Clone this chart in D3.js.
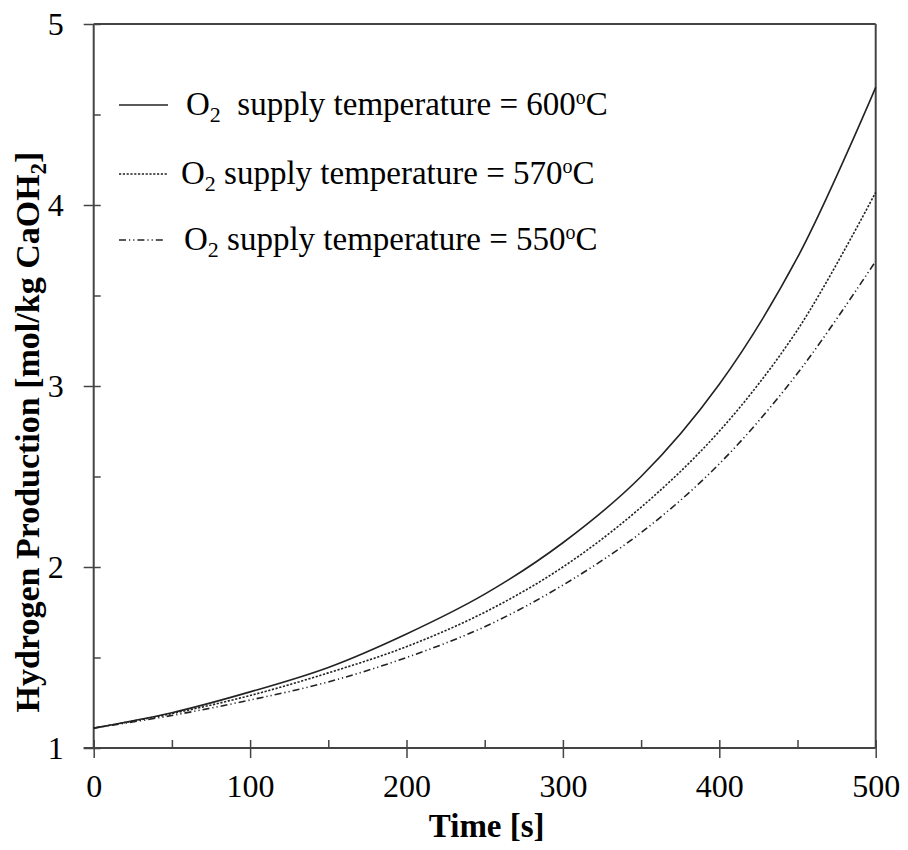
<!DOCTYPE html>
<html>
<head>
<meta charset="utf-8">
<script src="https://cdn.jsdelivr.net/npm/d3@7"></script>
<style>
  html, body { margin: 0; padding: 0; background: #fff; }
  svg text { font-family: "Liberation Serif", "Times New Roman", serif; fill: #000; white-space: pre; }
</style>
</head>
<body>
<svg id="chart" width="908" height="850"></svg>
<script>
// Hydrogen production over time for three O2 supply temperatures
const time = [0, 50, 100, 150, 200, 250, 300, 350, 400, 450, 500];
const supply600 = [1.11, 1.195, 1.31, 1.445, 1.63, 1.85, 2.134, 2.50, 3.01, 3.71, 4.65];
const supply570 = [1.11, 1.19, 1.29, 1.415, 1.56, 1.75, 2.00, 2.33, 2.75, 3.31, 4.07];
const supply550 = [1.11, 1.18, 1.265, 1.365, 1.50, 1.67, 1.90, 2.19, 2.57, 3.07, 3.69];
const seriesTemps = ["600", "570", "550"];
const xTicks = [0, 100, 200, 300, 400, 500];
const yTicks = [1, 2, 3, 4, 5];

const svg = d3.select("#chart");
const plotL = 93.7, plotR = 875.7, plotT = 24, plotB = 748;
const x = d3.scaleLinear().domain([0, 500]).range([plotL, plotR]);
const y = d3.scaleLinear().domain([1, 5]).range([plotB, plotT]);
const axisColor = "#444";
const serif = "Liberation Serif, Times New Roman, serif";

// frame: top and right borders
svg.append("line").attr("x1", x(0)).attr("x2", x(500)).attr("y1", y(5)).attr("y2", y(5))
  .attr("stroke", axisColor).attr("stroke-width", 2);
svg.append("line").attr("x1", x(500)).attr("x2", x(500)).attr("y1", y(5)).attr("y2", y(1))
  .attr("stroke", axisColor).attr("stroke-width", 2);

// x axis: major ticks cross the axis, minor ticks point inward
const xAxis = svg.append("g").attr("transform", `translate(0,${plotB})`)
  .call(d3.axisBottom(x).tickValues(xTicks).tickSize(10).tickFormat(d3.format("d")));
xAxis.selectAll(".tick line").attr("y1", -8);
svg.append("g").attr("transform", `translate(0,${plotB})`)
  .call(d3.axisTop(x).tickValues([50, 150, 250, 350, 450]).tickSize(8).tickFormat(""))
  .call(g => g.select(".domain").remove());

// y axis
const yAxis = svg.append("g").attr("transform", `translate(${plotL},0)`)
  .call(d3.axisLeft(y).tickValues(yTicks).tickSize(10).tickFormat(d3.format("d")));
yAxis.selectAll(".tick line").attr("x1", 7);
svg.append("g").attr("transform", `translate(${plotL},0)`)
  .call(d3.axisRight(y).tickValues([1.5, 2.5, 3.5, 4.5]).tickSize(7).tickFormat(""))
  .call(g => g.select(".domain").remove());

svg.selectAll("g").attr("font-family", serif);
svg.selectAll(".domain").attr("stroke", axisColor).attr("stroke-width", 2);
svg.selectAll(".tick line").attr("stroke", axisColor).attr("stroke-width", 1.5);
xAxis.select(".domain").attr("d", `M${plotL - 10},0H${plotR}`);
yAxis.select(".domain").attr("d", `M0,${plotB}V${plotT}`);

xAxis.selectAll(".tick text").attr("y", 0).attr("dy", 0)
  .attr("transform", "translate(0,49)")
  .attr("font-family", serif).style("font-size", "32px");
yAxis.selectAll(".tick text").attr("x", -30).attr("dy", "0.33em")
  .attr("font-family", serif).style("font-size", "32px");

// axis titles
svg.append("text").attr("x", (plotL + plotR) / 2 + 2).attr("y", 837)
  .attr("text-anchor", "middle").style("font-size", "33px").style("font-weight", "bold")
  .text("Time [s]");

const yTitle = svg.append("text")
  .attr("transform", "translate(39,432) rotate(-90)")
  .attr("text-anchor", "middle").style("font-size", "34px").style("font-weight", "bold");
yTitle.append("tspan").text("Hydrogen Production [mol/kg CaOH");
yTitle.append("tspan").attr("dy", 7).style("font-size", "23px").text("2");
yTitle.append("tspan").attr("dy", -7).text("]");

// curves
const dashes = [null, "2.2,1.6", "7,3,1.2,3,1.2,3"];
const seriesValues = [supply600, supply570, supply550];
const line = d3.line().x(d => x(d[0])).y(d => y(d[1])).curve(d3.curveCatmullRom.alpha(0.5));
seriesValues.forEach((vals, i) => {
  svg.append("path")
    .datum(time.map((t, j) => [t, vals[j]]))
    .attr("d", line)
    .attr("fill", "none")
    .attr("stroke", "#222")
    .attr("stroke-width", 1.6)
    .attr("stroke-dasharray", dashes[i]);
});

// legend
const legendRows = [
  { y: 105, x1: 119, x2: 168, tx: 186, gap: "  " },
  { y: 174, x1: 119, x2: 168, tx: 181, gap: " " },
  { y: 240, x1: 119, x2: 163, tx: 184, gap: " " }
];
legendRows.forEach((r, i) => {
  svg.append("line").attr("x1", r.x1).attr("x2", r.x2).attr("y1", r.y).attr("y2", r.y)
    .attr("stroke", "#222").attr("stroke-width", 1.3).attr("stroke-dasharray", dashes[i]);
  const t = svg.append("text").attr("x", r.tx).attr("y", r.y + 10).style("font-size", "33px");
  t.append("tspan").text("O");
  t.append("tspan").attr("dy", 7).style("font-size", "22px").text("2");
  t.append("tspan").attr("dy", -7).text(`${r.gap}supply temperature = ${seriesTemps[i]}`);
  t.append("tspan").attr("dy", -11).style("font-size", "20px").text("o");
  t.append("tspan").attr("dy", 11).text("C");
});
</script>
</body>
</html>
